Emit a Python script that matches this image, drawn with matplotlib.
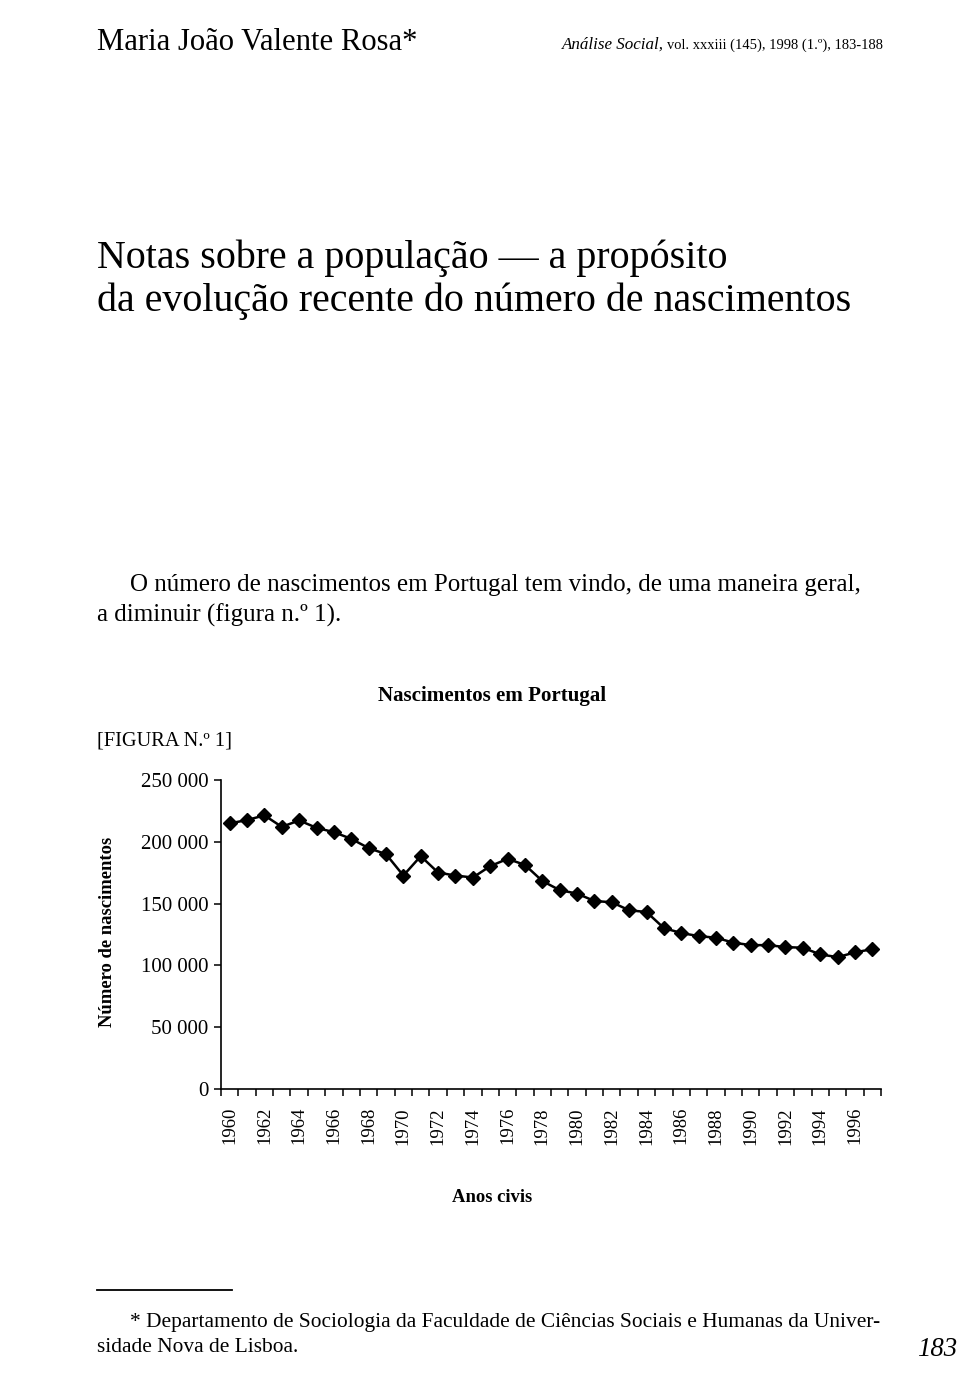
"""Recreate page 183 of Analise Social (1998): births in Portugal, 1960-1997."""
import matplotlib
matplotlib.use("Agg")
import matplotlib.pyplot as plt
from matplotlib.lines import Line2D

# --- data ---
years = list(range(1960, 1998))
births = [
    214900, 217600, 221400, 212100, 217300, 211300, 207800, 202400,
    194900, 190000, 172700, 188400, 175100, 172700, 171100, 180300,
    186200, 181300, 168300, 160900, 158100, 152100, 151100, 144600,
    143200, 130200, 126200, 123700, 122400, 118400, 116400, 116400,
    114800, 114300, 108900, 106700, 110500, 113200,
]
ytick_values = [0, 50000, 100000, 150000, 200000, 250000]
ytick_labels = ["0", "50 000", "100 000", "150 000", "200 000", "250 000"]
xtick_years = list(range(1960, 1997, 2))

W, H = 960, 1398
plt.rcParams["font.family"] = ["Liberation Serif", "DejaVu Serif"]

fig = plt.figure(figsize=(W / 100, H / 100), dpi=100)
fig.patch.set_facecolor("white")
renderer = fig.canvas.get_renderer()


def fx(px):
    return px / W


def fy(py):
    return 1 - py / H


def put_text(x, y, s, size, ha="left", **kw):
    return fig.text(fx(x), fy(y), s, ha=ha, va="center", fontsize=size, **kw)


def fit_text(x, y, s, length, along="w", ha="left", **kw):
    """Put text at pixel (x, y) and scale its size so it spans `length` px."""
    t = put_text(x, y, s, 20, ha=ha, **kw)
    bb = t.get_window_extent(renderer)
    cur = bb.width if along == "w" else bb.height
    t.set_fontsize(20 * length / cur)
    return t.get_fontsize()


# page header
fit_text(97, 42, "Maria João Valente Rosa*", 321)
fit_text(562, 45, "Análise Social,", 102, style="italic")
fit_text(667, 45, "vol. xxxiii (145), 1998 (1.º), 183-188", 215)

# article title
size = fit_text(97, 301, "da evolução recente do número de nascimentos", 756)
put_text(97, 258, "Notas sobre a população — a propósito", size)

# body text
size = fit_text(130, 585, "O número de nascimentos em Portugal tem vindo, "
                "de uma maneira geral,", 730)
put_text(97, 615, "a diminuir (figura n.º 1).", size)

# figure captions
fit_text(97, 741, "[FIGURA N.º 1]", 135)
fit_text(492, 696, "Nascimentos em Portugal", 229, ha="center",
         fontweight="bold")
fit_text(492, 1198, "Anos civis", 80, ha="center", fontweight="bold")
fit_text(107, 932, "Número de nascimentos", 190, along="h", ha="center",
         rotation=90, fontweight="bold")

# chart
ax = fig.add_axes([fx(221), fy(1089), (881 - 221) / W, (1089 - 780) / H])
ax.plot(years, births, color="black", lw=1.8, marker="D", ms=7.5,
        mfc="black", mec="black")
ax.set_xlim(years[0] - 0.5, years[-1] + 0.5)
ax.set_ylim(0, 250000)

ax.set_yticks(ytick_values)
ax.set_yticklabels(ytick_labels, fontsize=15)
ax.tick_params(axis="y", direction="out", length=5, width=1.1, pad=4)

ax.set_xticks(xtick_years)
ax.set_xticklabels([str(y) for y in xtick_years], rotation=90, fontsize=13.5)
ax.set_xticks([y - 0.5 for y in years] + [years[-1] + 0.5], minor=True)
ax.tick_params(axis="x", which="major", length=0, pad=13)
ax.tick_params(axis="x", which="minor", direction="out", length=5, width=1.1)

for side in ("top", "right"):
    ax.spines[side].set_visible(False)
for side in ("left", "bottom"):
    ax.spines[side].set_linewidth(1.2)
ax.set_facecolor("white")

# footnote
fig.add_artist(Line2D([fx(97), fx(232)], [fy(1290), fy(1290)],
                      transform=fig.transFigure, color="black", lw=1.3))
size = fit_text(130, 1322, "* Departamento de Sociologia da Faculdade de "
                "Ciências Sociais e Humanas da Univer-", 750)
put_text(97, 1348, "sidade Nova de Lisboa.", size)
fit_text(917, 1350, "183", 40, style="italic")

fig.savefig("out.png", dpi=100, facecolor="white")
